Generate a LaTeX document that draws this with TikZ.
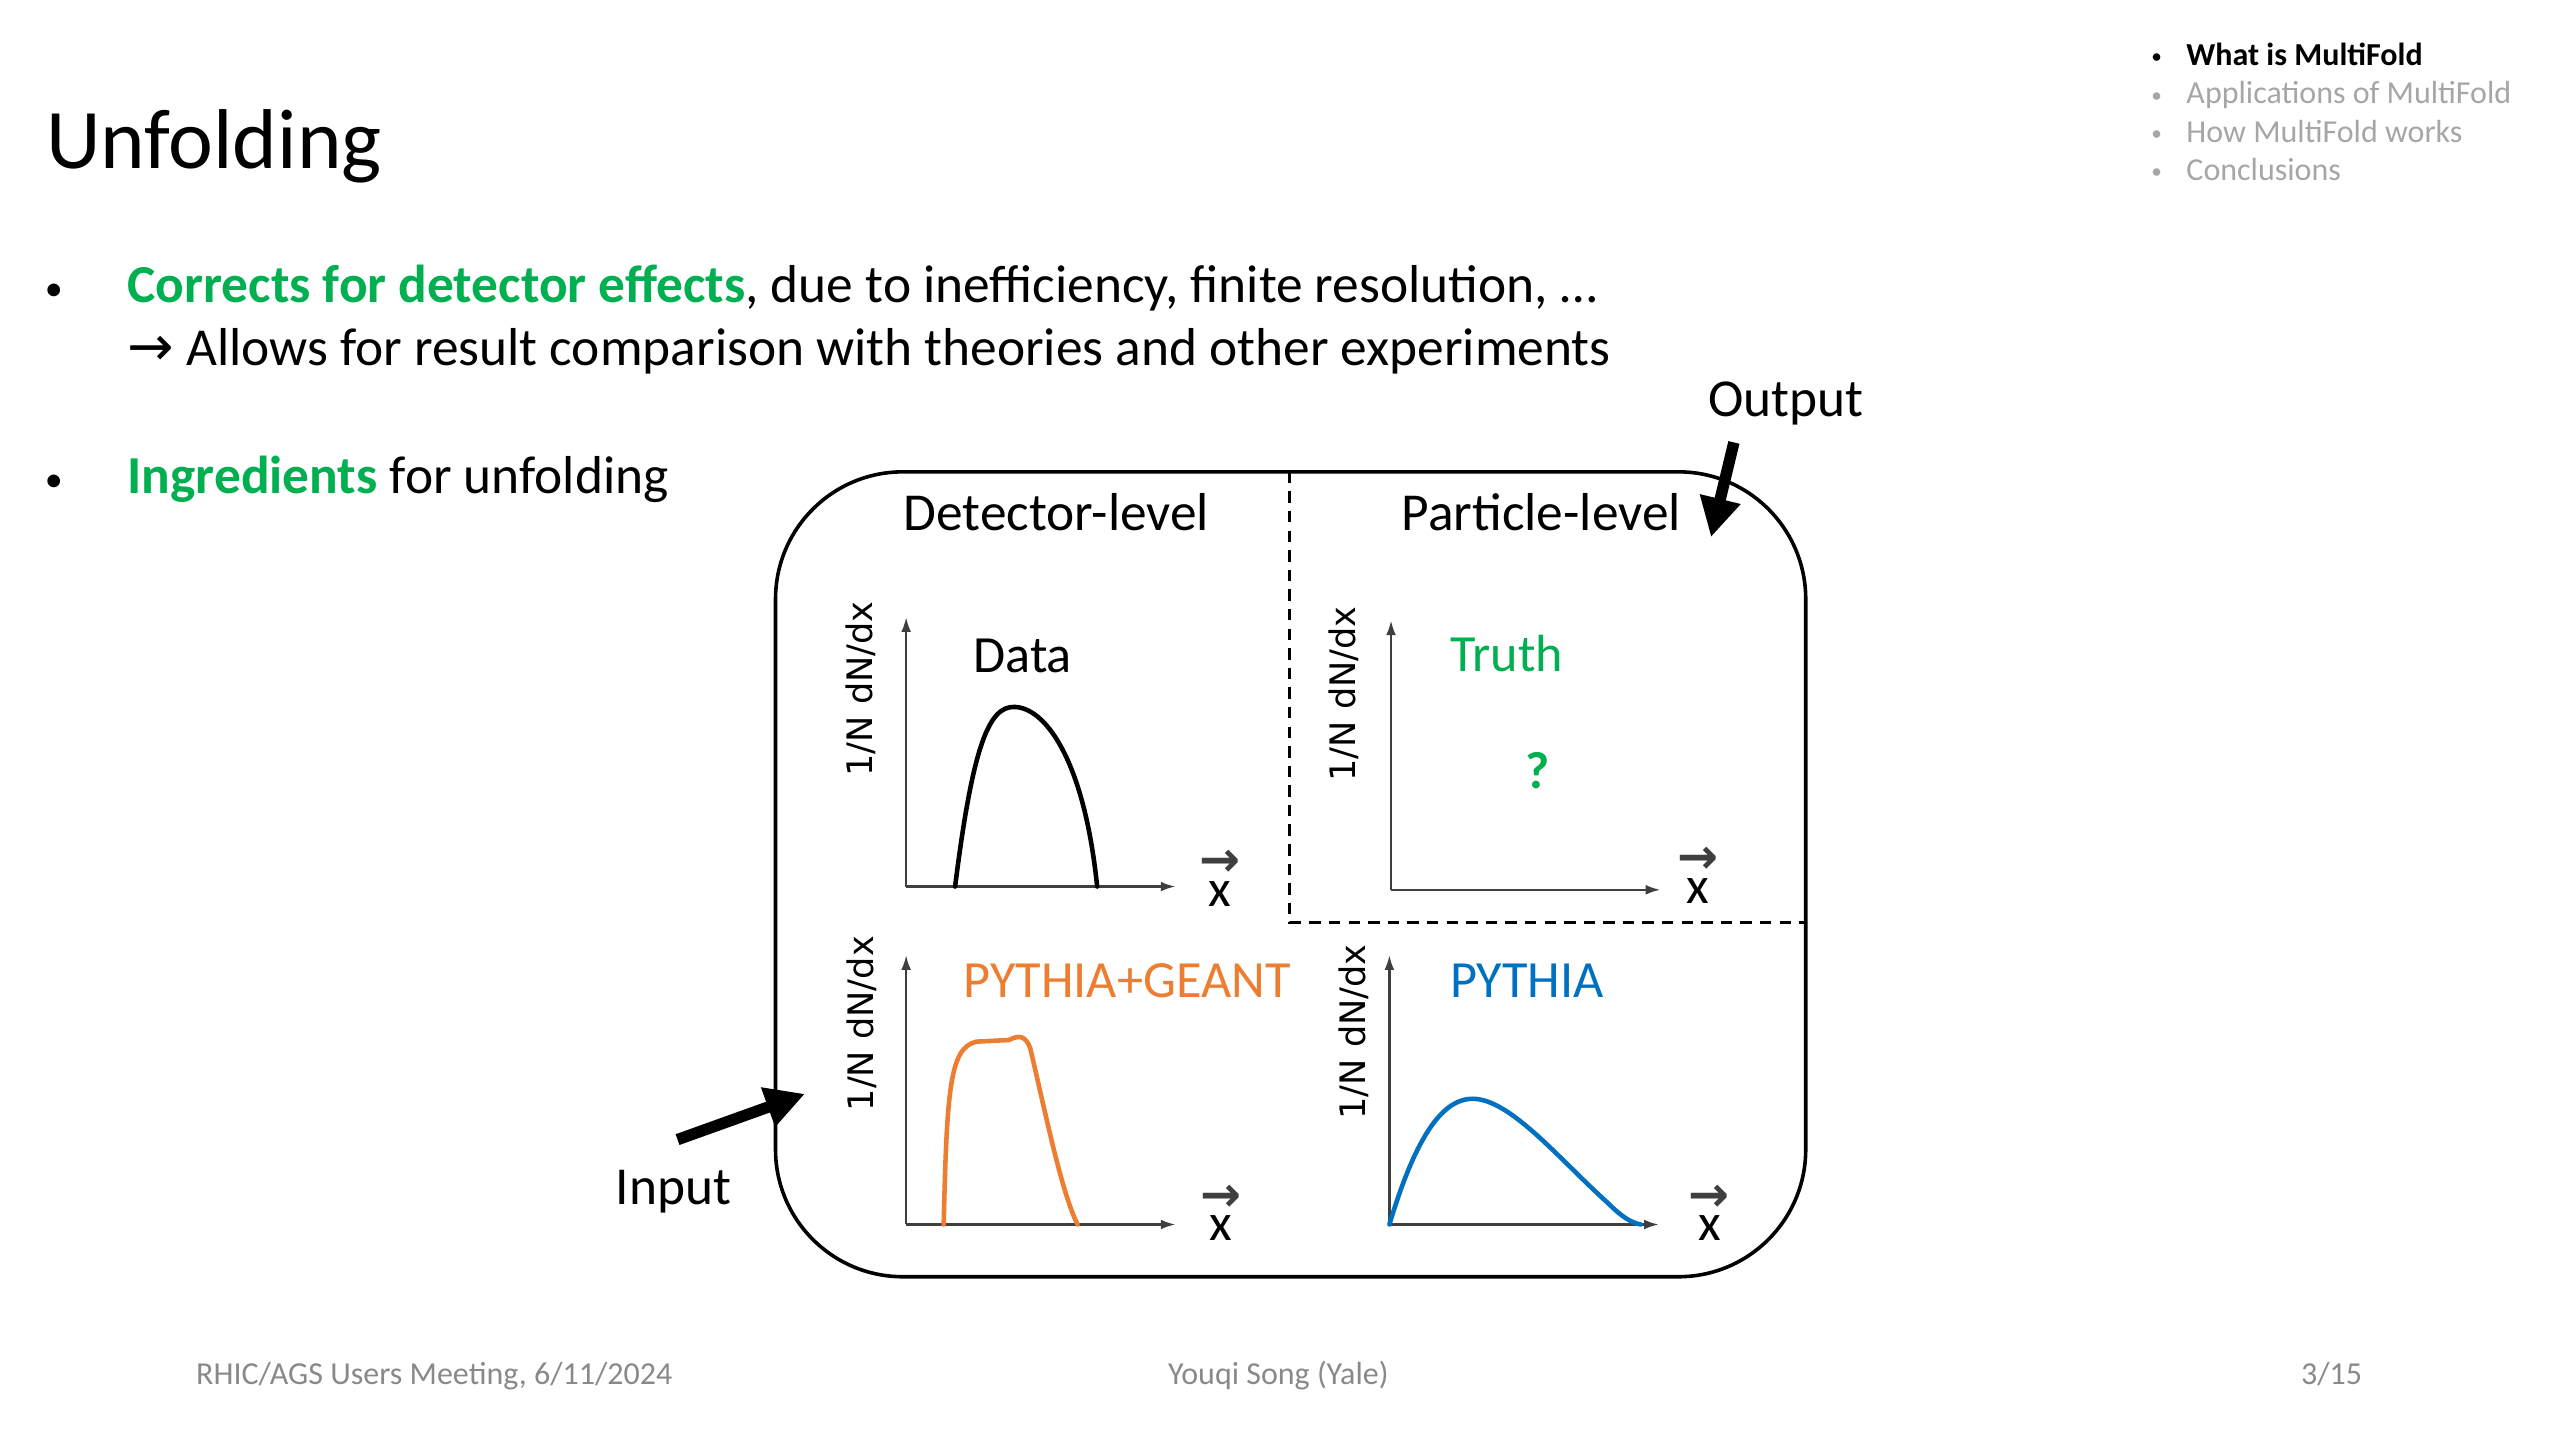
\documentclass[tikz,border=0pt]{standalone}
\usepackage{fontspec}
\setmainfont{Carlito}
\newfontfamily\axisfont{DejaVu Sans}
\usetikzlibrary{arrows.meta}

\definecolor{slidegreen}{HTML}{00B050}
\definecolor{pyorange}{HTML}{ED7D31}
\definecolor{pyblue}{HTML}{0070C0}
\definecolor{tocgray}{HTML}{A6A6A6}
\definecolor{footgray}{HTML}{898989}
\definecolor{axisgray}{HTML}{3F3F3F}

\newcommand{\vecarrow}{{\color{axisgray}\axisfont\bfseries\fontsize{30}{30}\selectfont →}}

\tikzset{
  txt/.style={anchor=base west, inner sep=0pt},
  body/.style={txt, font=\fontsize{32.7}{39}\selectfont},
  dot/.style={anchor=base, inner sep=0pt, font=\fontsize{22}{26}\selectfont},
  toc/.style={txt, font=\fontsize{19.6}{23}\selectfont},
  tocdot/.style={anchor=base, inner sep=0pt, font=\fontsize{13}{15}\selectfont},
  foot/.style={txt, text=footgray, font=\fontsize{19.6}{23}\selectfont},
  panel/.style={inner sep=0pt, font=\fontsize{32}{38}\selectfont},
  ylab/.style={inner sep=0pt, rotate=90, font=\axisfont\fontsize{21.5}{26}\selectfont},
  axis/.style={draw=axisgray, line width=1.4pt, -{Latex[length=9pt,width=6pt]}},
  vecx/.style={inner sep=0pt, align=center, font=\fontsize{32}{18}\selectfont},
  curve/.style={line width=2.8pt, line cap=round},
  bigarrow/.style={line width=7pt, -{Triangle[length=24pt,width=24pt]}}
}

\begin{document}
\begin{tikzpicture}[x=1pt,y=-1pt]

      \useasboundingbox (0,0) rectangle (1568,882);

      % title and bullets
      \node[txt, font=\fontsize{52}{62}\selectfont] (title) at (28,103) {Unfolding};
      \node[dot] (b1) at (33,184) {\textbullet};
      \node[body] (l1) at (78,185) {\textcolor{slidegreen}{\textbf{Corrects for detector effects}}, due to inefficiency, finite resolution, …};
      \node[body] (l2) at (78,224) {{\axisfont\fontsize{34}{36}\selectfont →} Allows for result comparison with theories and other experiments};
      \node[dot] (b2) at (33,301) {\textbullet};
      \node[body] (l3) at (78,302) {\textcolor{slidegreen}{\textbf{Ingredients}} for unfolding};

      % table of contents
      \node[tocdot] (t0) at (1321,39) {\textbullet};
      \node[toc] (t1) at (1339,40) {\textbf{What is MultiFold}};
      \node[tocdot, text=tocgray] (u1) at (1321,62.5) {\textbullet};
      \node[toc, text=tocgray] (t2) at (1339,63.5) {Applications of MultiFold};
      \node[tocdot, text=tocgray] (u2) at (1321,86) {\textbullet};
      \node[toc, text=tocgray] (t3) at (1339,87) {How MultiFold works};
      \node[tocdot, text=tocgray] (u3) at (1321,109.5) {\textbullet};
      \node[toc, text=tocgray] (t4) at (1339,110.5) {Conclusions};

      % footer
      \node[foot] (f1) at (120,848) {RHIC/AGS Users Meeting, 6/11/2024};
      \node[foot, anchor=base] (f2) at (783,848) {Youqi Song (Yale)};
      \node[foot, anchor=base east] (f3) at (1447,848) {3/15};

      % frame and dividers
      \draw[line width=2.2pt, rounded corners=78pt] (475,289) rectangle (1106,782);
      \draw[line width=1.8pt, dash pattern=on 7pt off 5pt] (790,289) -- (790,565) -- (1106,565);

      \node[body, anchor=base] (det) at (647,325) {Detector-level};
      \node[body, anchor=base] (par) at (944,325) {Particle-level};

      % data panel
      \coordinate (O1) at (555,543);
      \draw[axis] (O1) -- (555,378);
      \draw[axis] (O1) -- (720,543);
      \node[ylab] (y1) at (527,422) {1/N dN/dx};
      \node[panel, anchor=base west] (data) at (596,412) {Data};
      \node[vecx] (x1) at (747,538) {\vecarrow\\x};
      \draw[curve] (585,543) .. controls (596,455) and (606,433) .. (621,433)
                   .. controls (640,433) and (664,465) .. (672,543);

      % truth panel
      \coordinate (O2) at (852,545);
      \draw[axis] (O2) -- (852,380);
      \draw[axis] (O2) -- (1017,545);
      \node[ylab] (y2) at (823,425) {1/N dN/dx};
      \node[panel, anchor=base west, text=slidegreen] (truth) at (888,411) {Truth};
      \node[panel, text=slidegreen, font=\bfseries\fontsize{32}{38}\selectfont] (qm) at (942,472) {?};
      \node[vecx] (x2) at (1040,536) {\vecarrow\\x};

      % detector simulation panel
      \coordinate (O3) at (555,750);
      \draw[axis] (O3) -- (555,585);
      \draw[axis] (O3) -- (720,750);
      \node[ylab] (y3) at (528,627) {1/N dN/dx};
      \node[panel, anchor=base west, text=pyorange] (geant) at (590,611) {PYTHIA+GEANT};
      \node[vecx] (x3) at (748,743) {\vecarrow\\x};
      \draw[curve, pyorange] (578,750) .. controls (580,665) and (582,642) .. (598,638)
                   -- (618,637) .. controls (624,634) and (628,634) .. (631,642)
                   .. controls (640,680) and (650,730) .. (660,750);

      % generator panel
      \coordinate (O4) at (851,750);
      \draw[axis] (O4) -- (851,585);
      \draw[axis] (O4) -- (1016,750);
      \node[ylab] (y4) at (829,632) {1/N dN/dx};
      \node[panel, anchor=base west, text=pyblue] (pythia) at (888,611) {PYTHIA};
      \node[vecx] (x4) at (1047,743) {\vecarrow\\x};
      \draw[curve, pyblue] (851,750) .. controls (866,700) and (882,673) .. (902,673)
                   .. controls (925,673) and (955,710) .. (985,737)
                   .. controls (993,745) and (999,749) .. (1005,750);

      % input and output
      \node[body] (out) at (1046,255) {Output};
      \coordinate (outtip) at (1048,329);
      \draw[bigarrow] (1062,271) -- (outtip);
      \node[body] (in) at (377,738) {Input};
      \coordinate (intip) at (493,670);
      \draw[bigarrow] (415,698) -- (intip);
  \end{tikzpicture}
\end{document}
